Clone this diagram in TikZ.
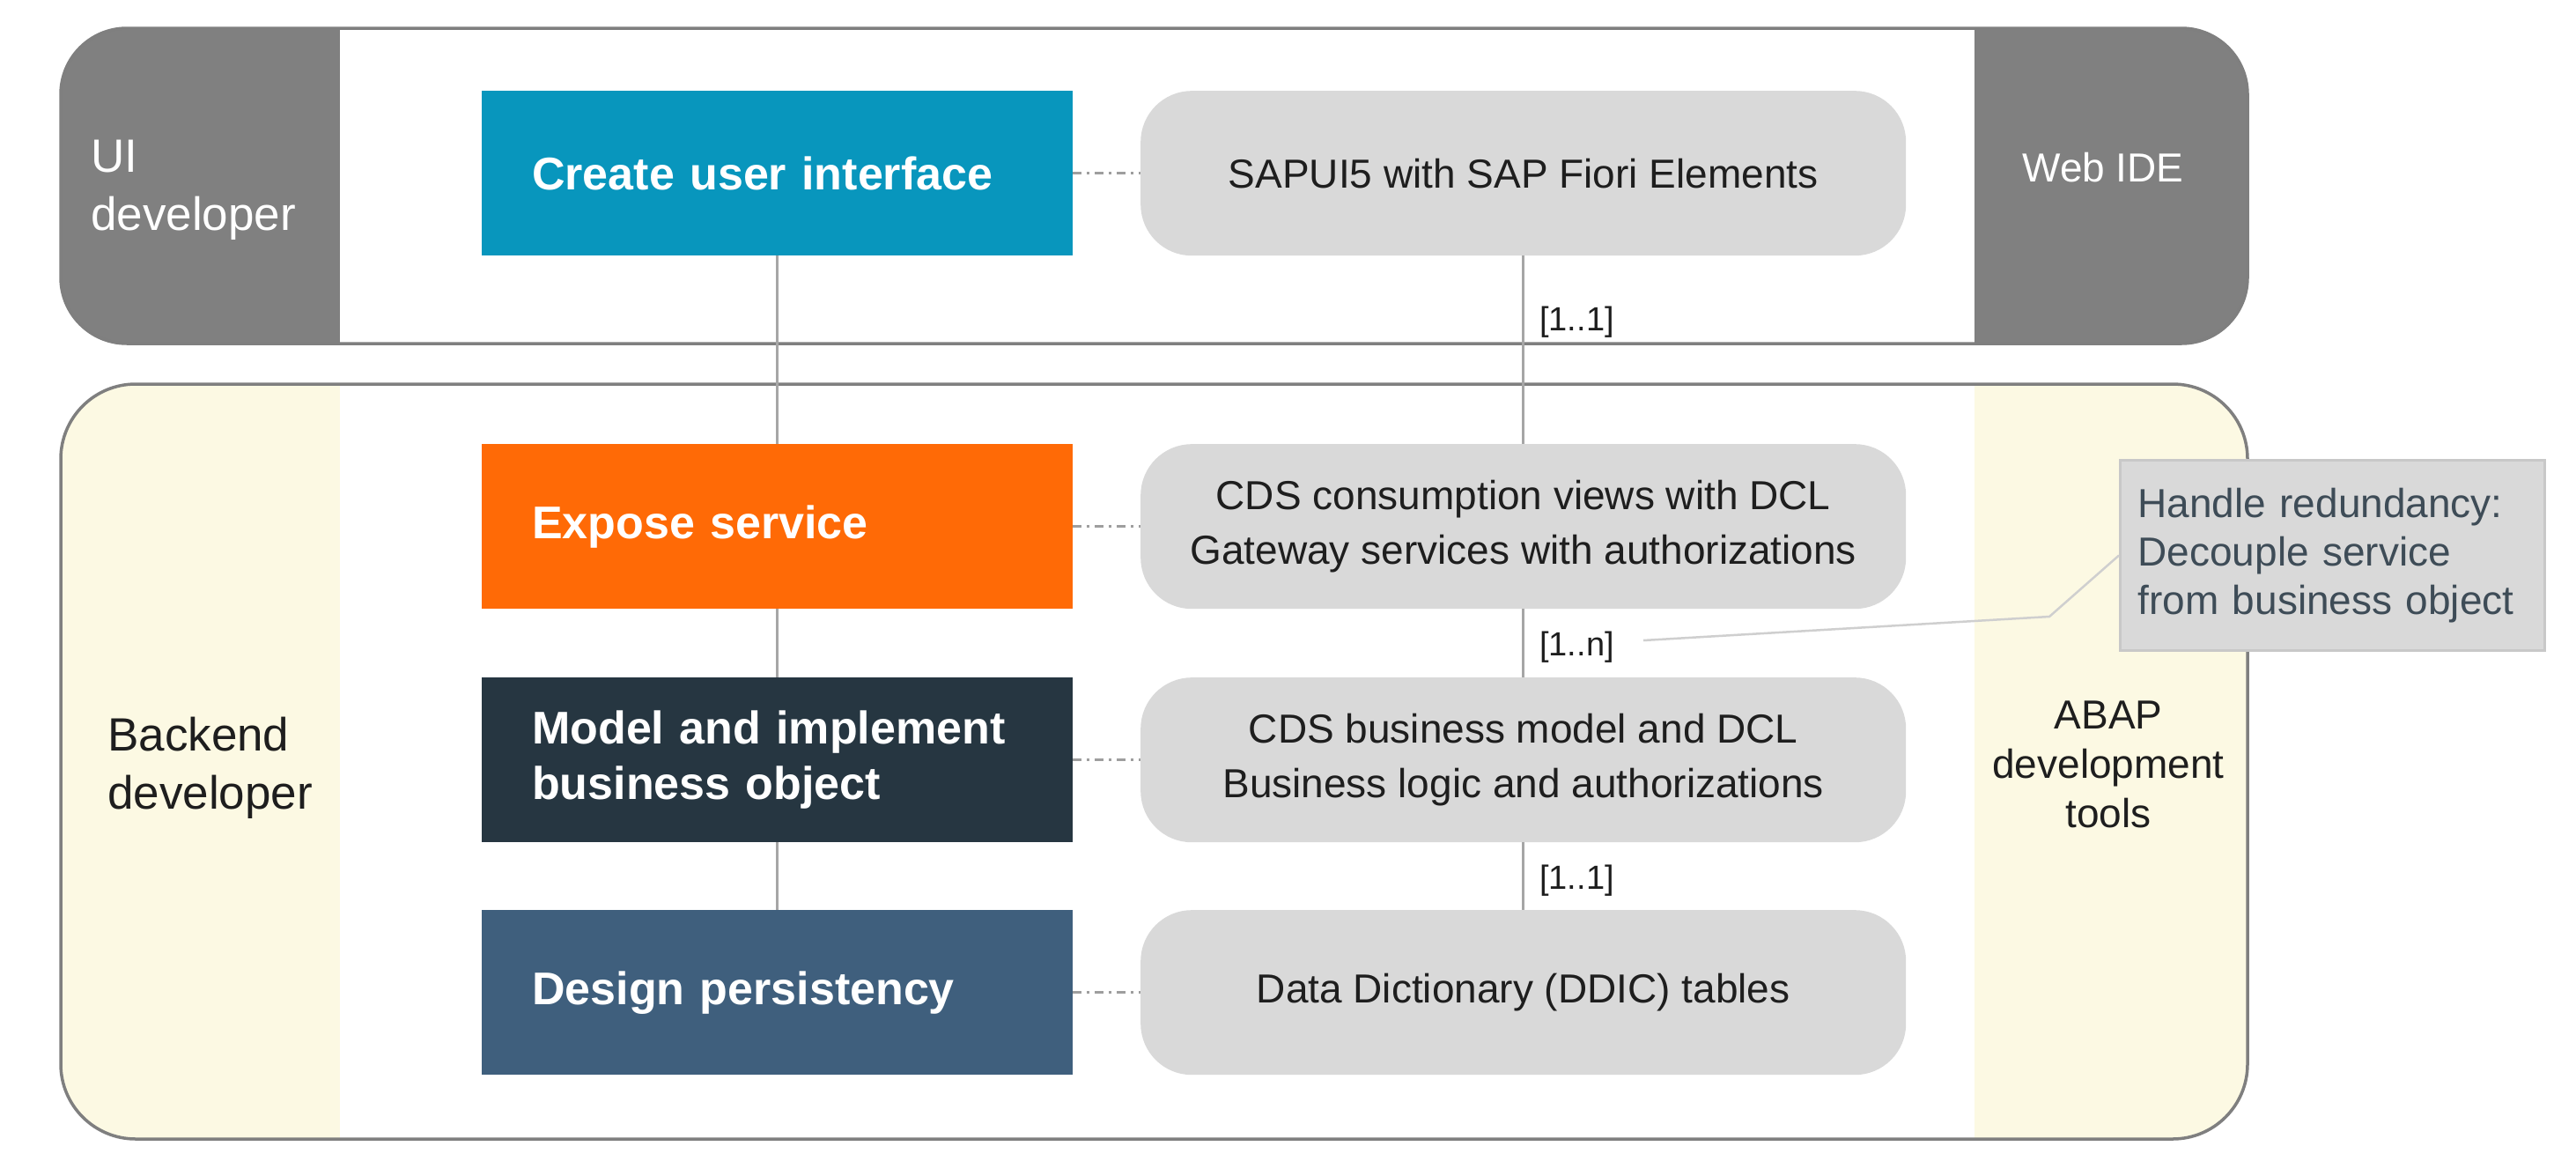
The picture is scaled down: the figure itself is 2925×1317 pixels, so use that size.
\documentclass[tikz,border=0pt]{standalone}
\usepackage{fontspec}
\setmainfont{Liberation Sans}
\definecolor{panelgray}{HTML}{808080}
\definecolor{outl}{HTML}{7F7F7F}
\definecolor{cream}{HTML}{FCF9E3}
\definecolor{uiblue}{HTML}{0896BD}
\definecolor{exorange}{HTML}{FF6A06}
\definecolor{modeldark}{HTML}{263641}
\definecolor{persblue}{HTML}{3F5F7D}
\definecolor{techgray}{HTML}{D9D9D9}
\definecolor{techtext}{HTML}{1E1E1E}
\definecolor{vlinec}{HTML}{A6A6A6}
\definecolor{dashc}{HTML}{9E9E9E}
\definecolor{noteborder}{HTML}{C8C8C8}
\definecolor{notetext}{HTML}{3E4C57}
\definecolor{leaderc}{HTML}{CFCFCF}
\begin{document}
\begin{tikzpicture}[x=1pt,y=-1pt,
  panelline/.style={draw=outl, line width=3.5pt},
  taskbox/.style={rectangle, anchor=north west, minimum width=671pt, minimum height=187pt,
    text width=557pt, inner xsep=57pt, inner ysep=0pt, align=left, text=white,
    font=\fontsize{52}{63}\selectfont\bfseries},
  techbox/.style={rectangle, anchor=north west, rounded corners=58pt, fill=techgray,
    minimum width=869pt, minimum height=187pt, align=center, text=techtext,
    font=\fontsize{46}{62}\selectfont},
  sidewhite/.style={inner sep=0pt, text=white, font=\fontsize{53}{66}\selectfont},
  sidedark/.style={inner sep=0pt, text=techtext, font=\fontsize{53}{66}\selectfont},
  mult/.style={anchor=west, inner sep=4pt, text=techtext, font=\fontsize{38}{46}\selectfont},
  vconn/.style={draw=vlinec, line width=3.5pt},
  linkdash/.style={draw=dashc, line width=2.5pt, dash pattern=on 10pt off 6pt on 3pt off 6pt},
  notebox/.style={rectangle, anchor=north west, fill=techgray, draw=noteborder, line width=3pt,
    minimum width=482pt, minimum height=216pt, text width=442pt, inner xsep=20pt,
    align=left, text=notetext, font=\fontsize{46}{55}\selectfont},
  leaderline/.style={draw=leaderc, line width=2.5pt}
]
\useasboundingbox (0,0) rectangle (2925,1317);
\fill[white] (0,0) rectangle (2925,1317);

% top panel
\begin{scope}
  \clip[rounded corners=75pt] (69,32) rectangle (2552,390);
  \fill[white] (69,32) rectangle (2552,390);
  \fill[panelgray] (69,32) rectangle (386,390);
  \fill[panelgray] (2242,32) rectangle (2552,390);
\end{scope}
\draw[panelline, rounded corners=75pt] (69,32) rectangle (2552,390);

% bottom panel
\begin{scope}
  \clip[rounded corners=85pt] (69,436) rectangle (2552,1293);
  \fill[white] (69,436) rectangle (2552,1293);
  \fill[cream] (69,436) rectangle (386,1293);
  \fill[cream] (2242,436) rectangle (2552,1293);
\end{scope}
\draw[panelline, rounded corners=85pt] (69,436) rectangle (2552,1293);

% side labels
\node[sidewhite, anchor=west, align=left] (uidev) at (103,216) {UI\\developer};
\node[sidewhite, align=center] (webide) at (2388,190) {\fontsize{46}{55}\selectfont Web IDE};
\node[sidedark, anchor=west, align=left] (backdev) at (122,872) {Backend\\developer};
\node[sidedark, align=center, font=\fontsize{46}{56}\selectfont] (adt) at (2394,868) {ABAP\\development\\tools};

% task boxes
\node[taskbox, fill=uiblue] (create) at (547,103) {Create user interface};
\node[taskbox, fill=exorange] (expose) at (547,504) {Expose service};
\node[taskbox, fill=modeldark] (model) at (547,769) {Model and implement\\business object};
\node[taskbox, fill=persblue] (design) at (547,1033) {Design persistency};

% technology boxes
\node[techbox] (sapui) at (1295,103) {SAPUI5 with SAP Fiori Elements};
\node[techbox] (cdscons) at (1295,504) {CDS consumption views with DCL\\Gateway services with authorizations};
\node[techbox] (cdsbus) at (1295,769) {CDS business model and DCL\\Business logic and authorizations};
\node[techbox] (ddic) at (1295,1033) {Data Dictionary (DDIC) tables};

% vertical connectors
\draw[vconn] (create.south) -- (expose.north);
\draw[vconn] (expose.south) -- (model.north);
\draw[vconn] (model.south) -- (design.north);
\draw[vconn] (sapui.south) -- (cdscons.north);
\draw[vconn] (cdscons.south) -- (cdsbus.north);
\draw[vconn] (cdsbus.south) -- (ddic.north);

% dash-dot links
\draw[linkdash] (create.east) -- (sapui.west);
\draw[linkdash] (expose.east) -- (cdscons.west);
\draw[linkdash] (model.east) -- (cdsbus.west);
\draw[linkdash] (design.east) -- (ddic.west);

% multiplicities
\node[mult] (m1) at (1744,366) {[1..1]};
\node[mult] (m2) at (1744,735) {[1..n]};
\node[mult] (m3) at (1744,1000) {[1..1]};

% note
\coordinate (bend) at (2327,700);
\coordinate (leadend) at (1866,727);
\node[notebox] (note) at (2406,521) {Handle redundancy:\\Decouple service\\from business object};
\draw[leaderline] (note.west) -- (bend) -- (leadend);
\end{tikzpicture}
\end{document}
